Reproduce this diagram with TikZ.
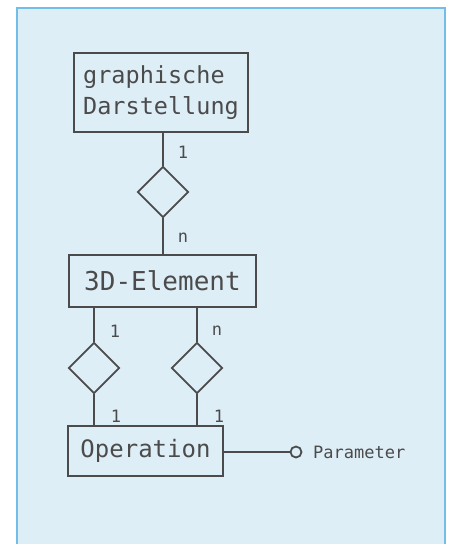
\documentclass[tikz,border=0pt]{standalone}
\usepackage{fontspec}
\newfontfamily\plotfont{DejaVu Sans Mono}
\usepackage{xcolor}
\usepackage{tikz}
\usetikzlibrary{shapes.geometric, positioning, calc}

\definecolor{paneblue}{RGB}{222,238,247}
\definecolor{paneedge}{RGB}{115,190,232}
\definecolor{ink}{RGB}{75,75,75}

\begin{document}
\begin{tikzpicture}[
    x=1pt, y=-1pt,
    entity/.style={draw=ink, line width=1.8pt, text=ink, inner sep=0pt, minimum width=#1, font=\plotfont\fontsize{24}{28}\selectfont},
    rel/.style={draw=ink, line width=1.8pt, diamond, aspect=1, inner sep=0pt, minimum size=51pt},
    card/.style={text=ink, inner sep=1pt, font=\plotfont\fontsize{17}{19}\selectfont},
    link/.style={draw=ink, line width=1.8pt}
]
\useasboundingbox (0,0) rectangle (451,544);

% Panel
\fill[paneblue] (17,8) rectangle (445,544);
\draw[paneedge, line width=2pt] (17,544) -- (17,8) -- (445,8) -- (445,544);

% Entities
\node[entity=174pt, minimum height=79pt, align=left, font=\plotfont\fontsize{23.5}{31}\selectfont] (grafik) at (161,92.5) {graphische\\Darstellung};
\node[entity=187pt, minimum height=52pt, font=\plotfont\fontsize{26}{28}\selectfont] (elem) at (162.5,281) {3D-Element};
\node[entity=155pt, minimum height=50pt] (op) at (145.5,451) {Operation};

% Relations
\node[rel] (r1) at (163,192) {};
\node[rel] (r2) at (94,368) {};
\node[rel] (r3) at (197,368) {};

% Attribute
\node[draw=ink, line width=1.8pt, circle, inner sep=0pt, minimum size=11pt] (param) at (296,452) {};
\node[text=ink, anchor=west, inner sep=0pt, font=\plotfont\fontsize{17}{19}\selectfont] (ptext) at (313,452) {Parameter};

% Links
\draw[link] (r1.north |- grafik.south) -- (r1.north);
\draw[link] (r1.south) -- (r1.south |- elem.north);
\foreach \r in {r2, r3} {
    \draw[link] (\r.north |- elem.south) -- (\r.north);
    \draw[link] (\r.south) -- (\r.south |- op.north);
}
\draw[link] (op.east |- param) -- (param.west);

% Cardinalities
\node[card] (c1) at (183,152) {1};
\node[card] (c2) at (183,238) {n};
\node[card] (c3) at (115,331) {1};
\node[card] (c4) at (217,331) {n};
\node[card] (c5) at (116,416) {1};
\node[card] (c6) at (219,416) {1};

\end{tikzpicture}
\end{document}
